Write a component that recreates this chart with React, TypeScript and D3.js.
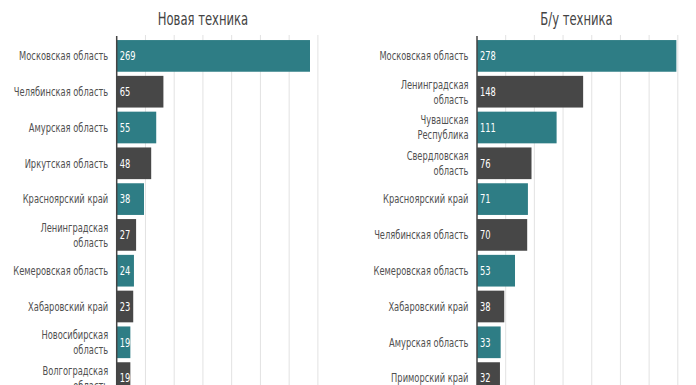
import React from 'react';
import * as d3 from 'd3';

const newRegions = [
  'Московская область',
  'Челябинская область',
  'Амурская область',
  'Иркутская область',
  'Красноярский край',
  'Ленинградская\nобласть',
  'Кемеровская область',
  'Хабаровский край',
  'Новосибирская\nобласть',
  'Волгоградская\nобласть',
];
const newValues = [269, 65, 55, 48, 38, 27, 24, 23, 19, 19];

const usedRegions = [
  'Московская область',
  'Ленинградская\nобласть',
  'Чувашская\nРеспублика',
  'Свердловская\nобласть',
  'Красноярский край',
  'Челябинская область',
  'Кемеровская область',
  'Хабаровский край',
  'Амурская область',
  'Приморский край',
];
const usedValues = [278, 148, 111, 76, 71, 70, 53, 38, 33, 32];

const gridTicks = [40, 80, 120, 160, 200, 240, 280];
const barColors = ['#2e7d85', '#474747'];

const W = 696;
const H = 385;
const FONT = '"DejaVu Sans Condensed", "DejaVu Sans", sans-serif';

interface TProps {
  x: number;
  y: number;
  size: number;
  fill: string;
  anchor?: 'start' | 'middle' | 'end';
  squeeze?: number;
  children: React.ReactNode;
}

// the reference uses a narrow face; squeeze the condensed one horizontally
const T: React.FC<TProps> = ({ x, y, size, fill, anchor = 'start', squeeze = 0.74, children }) => (
  <text
    transform={`translate(${x},${y}) scale(${squeeze},1)`}
    dy="0.35em"
    textAnchor={anchor}
    fontSize={size}
    fill={fill}
    fontFamily={FONT}
  >
    {children}
  </text>
);

interface PanelProps {
  title: string;
  titleX: number;
  regions: string[];
  values: number[];
  x0: number;
  x1: number;
}

const Panel: React.FC<PanelProps> = ({ title, titleX, regions, values, x0, x1 }) => {
  const x = d3.scaleLinear().domain([0, 280]).range([x0, x1]);
  const y = d3.scaleBand<number>()
    .domain(d3.range(values.length))
    .range([38, 38 + 35.8 * values.length])
    .paddingInner(0.115)
    .paddingOuter(0.0575);

  return (
    <g>
      <T x={titleX} y={19} size={17} fill="#444" anchor="middle" squeeze={0.76}>{title}</T>
      {gridTicks.map(t => (
        <line key={t} x1={x(t)} x2={x(t)} y1={35} y2={H} stroke="#e2e2e2" strokeWidth={1} />
      ))}
      {values.map((v, i) => {
        const yb = y(i)!;
        const cy = yb + y.bandwidth() / 2;
        const lines = regions[i].split('\n');
        return (
          <g key={i}>
            <rect x={x(0)} y={yb} width={x(v) - x(0)} height={y.bandwidth()} fill={barColors[i % 2]} />
            <T x={x(0) + 3} y={cy} size={12.5} fill="#fff">{v}</T>
            {lines.map((ln, j) => (
              <T
                key={j}
                x={x0 - 8.5}
                y={cy + (j - (lines.length - 1) / 2) * 15}
                size={12.5}
                fill="#505050"
                anchor="end"
              >
                {ln}
              </T>
            ))}
          </g>
        );
      })}
      <line x1={x0} x2={x0} y1={36} y2={H} stroke="#444" strokeWidth={1.5} />
    </g>
  );
};

const App: React.FC = () => {
  return (
    <svg
      width={W}
      height={H}
      viewBox={`0 0 ${W} ${H}`}
      style={{ position: 'absolute', left: 0, top: 0, background: '#fff' }}
    >
      <Panel title="Новая техника" titleX={203} regions={newRegions} values={newValues} x0={116.7} x1={317.9} />
      <Panel title="Б/у техника" titleX={576.5} regions={usedRegions} values={usedValues} x0={477} x1={677.8} />
    </svg>
  );
};

export default App;
